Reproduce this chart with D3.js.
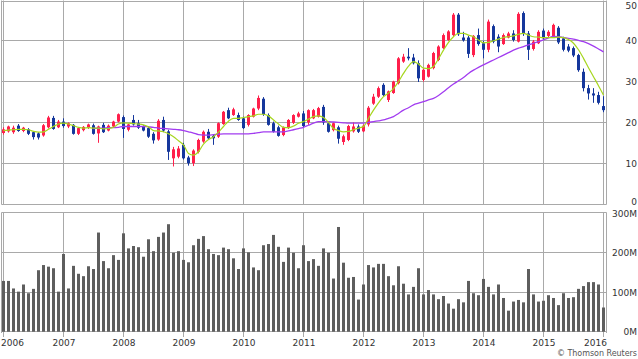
<!DOCTYPE html>
<html><head><meta charset="utf-8">
<script src="https://cdn.jsdelivr.net/npm/d3@7/dist/d3.min.js"></script>
<style>
body{margin:0;background:#fff}
svg{display:block}
text{font-family:"DejaVu Sans",Verdana,sans-serif}
</style></head>
<body><svg id="chart" width="638" height="359"></svg>
<script>
// ---- data (monthly, Jan 2006 .. Jan 2016) ----
const yearLabels = ["2006","2007","2008","2009","2010","2011","2012","2013","2014","2015","2016"];
const priceTicks = [0,10,20,30,40,50];
const volumeTicks = [0,100,200,300];
const volumeTickLabels = ["0M","100M","200M","300M"];

const open = [17.4,17.8,17.6,19.2,17.9,18.3,17.6,17.3,16.8,18.8,21.1,18.8,
 20.2,19.0,19.4,17.2,18.1,18.7,19.3,17.3,19.4,18.0,19.0,20.2,
 21.3,18.2,20.6,19.8,18.9,18.6,17.2,15.8,20.6,17.8,11.2,11.6,
 14.5,11.4,10.0,12.8,15.3,17.7,16.7,16.5,19.6,23.0,21.8,21.8,
 21.0,19.4,21.4,23.4,25.8,21.8,19.8,18.8,16.9,18.6,19.9,21.4,
 22.2,20.0,21.0,21.4,23.8,19.8,18.1,18.8,15.2,15.7,17.8,19.0,
 17.8,19.5,24.6,26.3,29.2,25.5,27.2,29.6,34.9,36.1,35.9,34.5,
 30.4,31.2,33.3,35.3,38.2,40.2,41.4,46.4,40.8,40.8,36.5,41.4,
 39.4,37.8,43.6,41.0,39.2,40.8,41.8,39.8,46.8,41.8,38.0,39.4,
 42.5,41.2,41.0,43.2,40.6,38.6,38.2,36.5,32.4,28.4,27.1,26.7,
 24.0];
const high = [18.8,19.2,19.2,19.6,18.9,18.6,17.9,17.6,19.6,21.6,21.6,20.6,
 21.0,20.0,19.6,18.8,19.1,19.7,19.7,19.2,19.9,19.5,20.4,22.2,
 21.7,19.7,21.8,20.6,19.3,19.0,17.6,20.8,21.4,18.2,14.0,14.2,
 15.0,11.8,13.4,16.0,18.0,18.4,17.0,20.0,22.8,23.6,23.6,22.4,
 21.4,22.0,23.6,26.6,26.2,22.2,20.2,19.2,19.0,20.8,22.0,22.6,
 22.8,23.2,23.3,23.8,24.3,20.0,20.0,19.2,17.0,19.4,20.0,19.5,
 19.5,24.0,27.0,28.8,29.6,27.8,30.2,36.0,36.8,38.2,36.8,35.2,
 33.2,34.4,37.3,38.9,41.8,42.6,46.8,46.8,42.2,41.2,41.4,43.0,
 40.0,45.2,44.0,41.6,41.8,42.2,42.6,47.0,47.2,42.4,40.2,42.6,
 43.0,42.6,44.2,43.6,41.0,39.2,38.6,36.8,33.2,29.2,28.4,27.5,
 26.4];
const low = [17.0,17.5,17.2,17.7,17.6,16.9,15.8,15.8,16.5,18.5,18.2,18.6,
 18.7,18.6,17.0,16.9,17.8,18.4,17.0,15.0,17.4,17.8,18.8,20.0,
 16.2,17.8,19.2,18.4,17.8,16.2,14.8,15.5,17.6,10.8,9.2,11.2,
 10.9,9.4,9.3,12.4,15.0,15.8,14.5,16.2,19.4,20.8,21.6,20.4,
 18.4,19.0,21.2,23.0,21.6,19.2,17.5,16.5,16.6,18.4,19.6,21.2,
 18.8,19.4,20.8,21.2,19.4,17.5,17.8,14.8,14.5,15.4,17.5,17.4,
 17.6,19.0,24.3,26.0,26.4,25.0,27.0,29.3,34.6,35.2,34.2,29.9,
 30.0,31.0,33.0,35.0,38.0,40.0,41.0,41.2,39.8,35.8,36.0,38.8,
 35.7,37.2,39.4,37.2,39.0,40.6,39.8,39.6,41.2,35.3,37.6,39.2,
 40.2,40.8,40.8,39.2,37.4,37.2,36.0,32.4,27.6,25.6,24.8,24.4,
 22.5];
const close = [18.3,19.0,18.7,17.9,18.7,17.2,16.4,16.3,19.3,21.2,18.4,20.2,
 19.1,19.8,17.2,18.6,18.9,19.5,17.2,19.0,17.6,19.2,20.2,22.0,
 18.4,19.5,19.5,18.7,18.0,16.5,15.6,20.4,18.0,12.8,13.4,13.6,
 11.2,10.0,13.1,15.7,17.7,16.1,16.1,19.8,22.6,21.0,23.2,20.6,
 18.6,21.8,23.4,26.0,22.0,19.4,17.7,16.7,18.8,20.6,21.8,22.2,
 19.1,23.0,23.0,23.5,20.0,17.7,19.8,16.0,16.6,19.1,19.0,17.7,
 19.2,23.6,26.3,28.4,26.7,27.6,30.0,35.7,36.1,35.7,34.5,30.8,
 32.9,34.1,37.0,38.6,41.4,42.3,46.4,41.6,40.1,36.8,41.2,39.2,
 37.8,44.7,39.8,38.6,41.4,41.8,40.2,46.6,41.8,37.8,39.8,42.2,
 40.6,42.2,43.9,39.6,37.8,37.6,36.4,32.8,28.4,27.1,26.6,24.8,
 23.0];
const maShort = [18.0,18.1,18.2,18.3,18.3,18.2,17.8,17.6,17.7,18.3,19.0,19.6,
 19.8,19.6,19.2,18.8,18.6,18.7,18.6,18.6,18.4,18.5,18.8,19.6,
 19.9,19.8,19.7,19.6,19.4,18.9,18.0,17.9,17.7,17.2,16.5,15.5,
 14.5,12.4,12.0,12.8,14.7,15.8,16.5,17.6,19.0,20.3,21.0,21.0,
 21.2,21.4,21.6,22.0,22.0,21.6,20.6,19.6,18.8,18.7,19.1,19.8,
 20.2,20.8,21.4,21.6,21.2,20.0,18.5,18.0,17.7,17.8,18.2,18.6,
 19.0,21.0,23.0,24.8,26.3,27.2,28.3,30.0,32.0,33.8,34.9,34.3,
 33.3,33.2,33.7,35.6,37.7,39.6,41.0,41.8,41.8,41.4,41.0,40.2,
 39.5,39.6,40.0,40.4,40.8,41.0,41.2,41.6,41.8,41.4,41.0,40.9,
 40.8,40.8,40.8,40.9,40.8,40.3,39.4,37.8,35.7,33.4,31.2,29.0,
 26.7];
const maLong = [null,null,null,null,null,null,null,null,null,null,null,null,
 null,null,null,null,null,null,18.5,18.6,18.6,18.7,18.7,18.8,
 19.0,19.0,19.0,19.0,19.0,18.9,18.8,18.6,18.5,18.4,18.3,18.2,
 18.0,17.7,17.4,17.0,16.9,16.9,17.0,17.1,17.2,17.2,17.2,17.2,
 17.2,17.2,17.3,17.5,17.7,17.7,17.7,17.7,17.7,17.9,18.2,18.5,
 18.8,19.3,19.8,20.2,20.2,20.2,20.1,20.0,19.9,19.8,19.8,19.8,
 19.8,20.0,20.2,20.4,20.6,21.0,21.4,22.2,23.0,23.6,24.3,24.7,
 25.1,25.5,25.9,26.6,27.5,28.5,29.4,30.2,31.0,32.0,32.8,33.5,
 34.1,34.7,35.3,35.9,36.5,37.1,37.7,38.2,38.6,39.0,39.4,39.8,
 40.2,40.7,41.1,41.0,40.8,40.6,40.4,40.1,39.8,39.3,38.7,38.0,
 37.3];
const volume = [128,128,109,101,119,97,108,155,168,164,160,101,
 196,109,166,146,140,165,158,250,178,160,193,181,
 248,210,216,213,189,233,203,239,250,271,199,203,
 181,175,218,234,241,208,196,193,212,208,185,158,
 210,200,162,155,218,221,244,214,176,212,199,160,
 218,178,183,166,210,199,134,264,174,136,138,81,
 119,168,162,171,171,140,117,165,121,94,113,160,
 94,105,94,82,90,71,58,82,74,128,97,92,
 133,113,94,119,85,53,76,80,74,158,94,76,
 78,92,85,67,97,85,87,108,115,125,125,119,
 61];

// ---- layout ----
const W = 638, H = 359;
const plotL = 1.5, plotR = 606.5;
const svg = d3.select("#chart");
svg.append("rect").attr("width",W).attr("height",H).attr("fill","#fff");

const x = d3.scaleLinear().domain([0,120]).range([3.5,603.5]);
const yP = d3.scaleLinear().domain([0,50]).range([204,0]);
const yV = d3.scaleLinear().domain([0,300]).range([331.7,212.7]);
const gridColor = "#a9a9a9";
const crisp = v => Math.round(v - 0.5) + 0.5;
const yearIdx = yearLabels.map((d,i)=>i*12);

// ---- price panel grid ----
const gP = svg.append("g");
gP.selectAll("line.h").data(priceTicks).join("line")
  .attr("x1",plotL).attr("x2",plotR)
  .attr("y1",d=>crisp(yP(d))+(d===50?1:0)).attr("y2",d=>crisp(yP(d))+(d===50?1:0))
  .attr("stroke",gridColor).attr("stroke-width",1);
gP.selectAll("line.v").data(yearIdx).join("line")
  .attr("x1",d=>x(d)).attr("x2",d=>x(d)).attr("y1",0.5).attr("y2",204.5)
  .attr("stroke",gridColor).attr("stroke-width",1);
[plotL, plotR].forEach(px=>gP.append("line").attr("x1",px).attr("x2",px)
  .attr("y1",0.5).attr("y2",204.5).attr("stroke",gridColor));

// ---- volume panel grid ----
const gV = svg.append("g");
gV.selectAll("line.h").data(volumeTicks).join("line")
  .attr("x1",plotL).attr("x2",plotR)
  .attr("y1",d=>crisp(yV(d))).attr("y2",d=>crisp(yV(d)))
  .attr("stroke",gridColor).attr("stroke-width",1);
gV.selectAll("line.v").data(yearIdx).join("line")
  .attr("x1",d=>x(d)).attr("x2",d=>x(d)).attr("y1",crisp(yV(300))).attr("y2",337)
  .attr("stroke",gridColor).attr("stroke-width",1);
[plotL, plotR].forEach(px=>gV.append("line").attr("x1",px).attr("x2",px)
  .attr("y1",crisp(yV(300))).attr("y2",333).attr("stroke",gridColor));

// ---- volume bars ----
svg.append("g").selectAll("rect").data(volume).join("rect")
  .attr("x",(d,i)=>x(i)-1.5).attr("width",3)
  .attr("y",d=>yV(d)).attr("height",d=>yV(0)-yV(d))
  .attr("fill","#5e5e5e");

// ---- candles ----
const up = "#ff1f4b", down = "#15379c";
const gc = svg.append("g");
const idx = d3.range(open.length);
gc.selectAll("line").data(idx).join("line")
  .attr("x1",i=>x(i)).attr("x2",i=>x(i))
  .attr("y1",i=>yP(high[i])).attr("y2",i=>yP(low[i]))
  .attr("stroke",i=>close[i]>=open[i]?up:down).attr("stroke-width",1);
gc.selectAll("rect").data(idx).join("rect")
  .attr("x",i=>x(i)-1.5).attr("width",3)
  .attr("y",i=>yP(Math.max(open[i],close[i])))
  .attr("height",i=>Math.max(1,Math.abs(yP(open[i])-yP(close[i]))))
  .attr("fill",i=>close[i]>=open[i]?up:down);

// ---- moving averages ----
const line = d3.line().defined(d=>d[1]!=null).x(d=>x(d[0])).y(d=>yP(d[1])).curve(d3.curveMonotoneX);
svg.append("path").datum(maLong.map((v,i)=>[i,v]))
  .attr("d",line).attr("fill","none").attr("stroke","#a23cf0").attr("stroke-width",1.3);
svg.append("path").datum(maShort.map((v,i)=>[i,v]))
  .attr("d",line).attr("fill","none").attr("stroke","#a6d61e").attr("stroke-width",1.2);

// ---- axes (labels) ----
const priceAxis = d3.axisRight(yP).tickValues(priceTicks).tickSize(0).tickPadding(0).tickFormat(d=>String(d));
const pa = svg.append("g").attr("transform","translate(637,0)").call(priceAxis);
pa.select(".domain").remove();
pa.selectAll("text").attr("text-anchor","end").attr("x",0).attr("fill","#333").style("font-size","9px")
  .attr("dy","0.35em")
  .attr("y",d=>d===50?5-yP(50):(d===0?-2.5:0));

const volAxis = d3.axisRight(yV).tickValues(volumeTicks).tickSize(0).tickPadding(0)
  .tickFormat((d,i)=>volumeTickLabels[i]);
const va = svg.append("g").attr("transform","translate(637,0)").call(volAxis);
va.select(".domain").remove();
va.selectAll("text").attr("text-anchor","end").attr("x",0).attr("fill","#333").style("font-size","9px")
  .attr("dy","0.35em").attr("y",d=>d===300?1:0);

const xAxis = d3.axisBottom(x).tickValues(yearIdx).tickSize(0).tickPadding(0)
  .tickFormat((d,i)=>yearLabels[i]);
const xa = svg.append("g").attr("transform","translate(0,343)").call(xAxis);
xa.select(".domain").remove();
xa.selectAll("text").attr("fill","#333").style("font-size","9px").attr("y",0).attr("dy","0.35em")
  .attr("text-anchor",(d,i)=>i===0?"start":(i===yearLabels.length-1?"end":"middle"))
  .attr("x",(d,i)=>i===0?-x(0)+0.5:(i===yearLabels.length-1?606.5-x(d):0));

svg.append("text").attr("x",637).attr("y",353).attr("dy","0.35em").attr("text-anchor","end")
  .attr("fill","#555").style("font-size","8px")
  .attr("textLength",80).attr("lengthAdjust","spacing")
  .text("© Thomson Reuters");
</script>
</body></html>
